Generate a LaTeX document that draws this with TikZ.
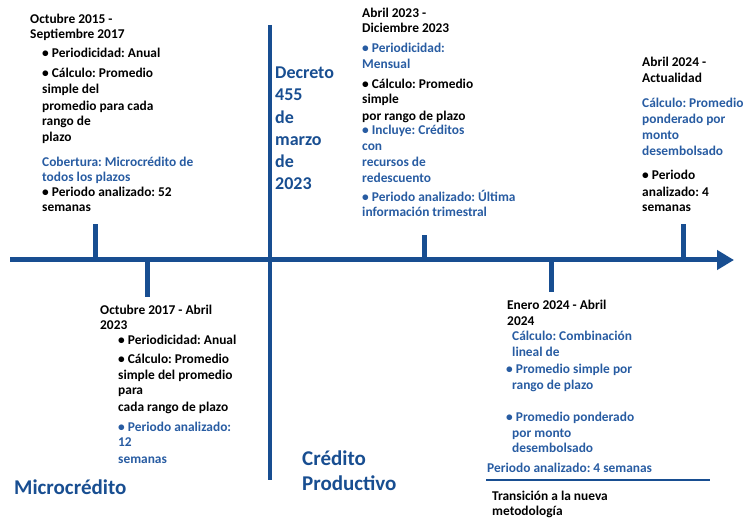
\documentclass[tikz,border=0pt]{standalone}
\usepackage{fontspec}
\setmainfont{Carlito}
\frenchspacing
\usetikzlibrary{arrows.meta}
\definecolor{lineblue}{RGB}{24,78,145}
\definecolor{txtblue}{RGB}{40,92,162}
\tikzset{
  tx/.style={font=\bfseries\fontsize{13.4}{16}\selectfont, inner sep=0pt, anchor=base west, text=black},
  bl/.style={tx, text=txtblue},
  big/.style={font=\bfseries\fontsize{18}{22}\selectfont, inner sep=0pt, anchor=base west, text=lineblue},
  bigger/.style={big, font=\bfseries\fontsize{21}{25}\selectfont},
  axis/.style={draw=lineblue, line width=5pt},
  tickline/.style={draw=lineblue, line width=5pt},
  decline/.style={draw=lineblue, line width=4.5pt},
  rule/.style={draw=lineblue, line width=2.5pt},
}
\newcommand\Lb[4][tx]{\node[#1] (#2) at (#3) {#4};}
\begin{document}
\begin{tikzpicture}[x=1pt,y=-1pt]
\useasboundingbox (0,0) rectangle (754,518);
% axis and ticks
\coordinate (L0) at (10,260);
\coordinate (L1) at (734,260);
\draw[axis,-{Triangle[length=17pt,width=19pt]}] (L0) -- (L1);
\coordinate (t1a) at (95,260);  \coordinate (t1b) at (95,224);
\coordinate (t2a) at (147,260); \coordinate (t2b) at (147,297);
\coordinate (t3a) at (424,260); \coordinate (t3b) at (424,235);
\coordinate (t4a) at (551,260); \coordinate (t4b) at (551,292);
\coordinate (t5a) at (683,260); \coordinate (t5b) at (683,224);
\coordinate (va) at (270,25);   \coordinate (vb) at (270,480);
\coordinate (ra) at (486,480);  \coordinate (rb) at (710,480);
\draw[tickline] (t1a) -- (t1b);
\draw[tickline] (t2a) -- (t2b);
\draw[tickline] (t3a) -- (t3b);
\draw[tickline] (t4a) -- (t4b);
\draw[tickline] (t5a) -- (t5b);
\draw[decline] (va) -- (vb);
\draw[rule] (ra) -- (rb);
% block 1
\Lb{a1}{30,24}{Octubre 2015 -}
\Lb{a2}{30,39}{Septiembre 2017}
\Lb{a3}{42,58}{• Periodicidad: Anual}
\Lb{a4}{42,78}{• Cálculo: Promedio}
\Lb{a5}{42,94}{simple del}
\Lb{a6}{42,111}{promedio para cada}
\Lb{a7}{42,126}{rango de}
\Lb{a8}{42,142}{plazo}
\Lb[bl]{a9}{42,167}{Cobertura: Microcrédito de}
\Lb[bl]{a10}{42,182}{todos los plazos}
\Lb{a11}{42,197}{• Periodo analizado: 52}
\Lb{a12}{42,212}{semanas}
% block 2
\Lb{b1}{100,314}{Octubre 2017 - Abril}
\Lb{b2}{100,329}{2023}
\Lb{b3}{118,344}{• Periodicidad: Anual}
\Lb{b4}{118,363}{• Cálculo: Promedio}
\Lb{b5}{118,379}{simple del promedio}
\Lb{b6}{118,394}{para}
\Lb{b7}{118,411}{cada rango de plazo}
\Lb[bl]{b8}{118,431}{• Periodo analizado:}
\Lb[bl]{b9}{118,446}{12}
\Lb[bl]{b10}{118,463}{semanas}
\Lb[bigger]{micro}{14,494}{Microcrédito}
% decreto
\Lb[big]{k1}{275,79}{Decreto}
\Lb[big]{k2}{275,101}{455}
\Lb[big]{k3}{275,124}{de}
\Lb[big]{k4}{275,146}{marzo}
\Lb[big]{k5}{275,168}{de}
\Lb[big]{k6}{275,190}{2023}
% block 3
\Lb{c1}{362,18}{Abril 2023 -}
\Lb{c2}{362,33}{Diciembre 2023}
\Lb[bl]{c3}{362,53}{• Periodicidad:}
\Lb[bl]{c4}{362,69}{Mensual}
\Lb{c5}{362,89}{• Cálculo: Promedio}
\Lb{c6}{362,104}{simple}
\Lb{c7}{362,121}{por rango de plazo}
\Lb[bl]{c8}{362,135}{• Incluye: Créditos}
\Lb[bl]{c9}{362,151}{con}
\Lb[bl]{c10}{362,167}{recursos de}
\Lb[bl]{c11}{362,183}{redescuento}
\Lb[bl]{c12}{362,202}{• Periodo analizado: Última}
\Lb[bl]{c13}{362,217}{información trimestral}
% block 5
\Lb{d1}{642,67}{Abril 2024 -}
\Lb{d2}{642,83}{Actualidad}
\Lb[bl]{d3}{642,108}{Cálculo: Promedio}
\Lb[bl]{d4}{642,124}{ponderado por}
\Lb[bl]{d5}{642,140}{monto}
\Lb[bl]{d6}{642,156}{desembolsado}
\Lb{d7}{642,180}{• Periodo}
\Lb{d8}{642,197}{analizado: 4}
\Lb{d9}{642,212}{semanas}
% credito productivo
\Lb[bigger]{cp1}{302,465}{Crédito}
\Lb[bigger]{cp2}{302,490}{Productivo}
% block 4
\Lb{e1}{507,309}{Enero 2024 - Abril}
\Lb{e2}{507,325}{2024}
\Lb[bl]{e3}{512,340}{Cálculo: Combinación}
\Lb[bl]{e4}{512,356}{lineal de}
\Lb[bl]{e5}{506,373}{• Promedio simple por}
\Lb[bl]{e6}{512,389}{rango de plazo}
\Lb[bl]{e7}{506,421}{• Promedio ponderado}
\Lb[bl]{e8}{512,437}{por monto}
\Lb[bl]{e9}{512,452}{desembolsado}
\Lb[bl]{e10}{487,472}{Periodo analizado: 4 semanas}
\Lb{e11}{492,500}{Transición a la nueva}
\Lb{e12}{492,515}{metodología}
\end{tikzpicture}
\end{document}
